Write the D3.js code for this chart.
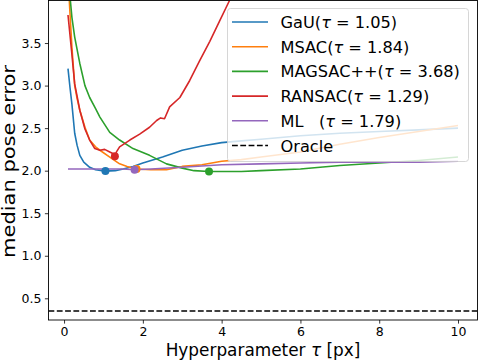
<!DOCTYPE html>
<html>
<head>
<meta charset="utf-8">
<script src="https://cdn.jsdelivr.net/npm/d3@7"></script>
<style>
  body { margin: 0; background: #fff; }
  svg text { font-family: "DejaVu Sans", sans-serif; fill: #000; }
</style>
</head>
<body>
<div id="chart"></div>
<script>
// Data
const gau_tau = [0.1, 0.15, 0.2, 0.27, 0.33, 0.4, 0.5, 0.65, 0.8, 1.05, 1.3, 1.5, 1.75, 2.0, 2.5, 3.0, 3.5, 4.0, 4.5, 5, 6, 7, 8, 9, 10];
const gau_err = [3.20, 2.98, 2.78, 2.44, 2.30, 2.18, 2.10, 2.04, 2.01, 1.995, 2.00, 2.02, 2.05, 2.09, 2.16, 2.24, 2.29, 2.33, 2.35, 2.37, 2.41, 2.44, 2.46, 2.48, 2.50];

const msac_tau = [0.1, 0.15, 0.2, 0.27, 0.33, 0.4, 0.53, 0.65, 0.8, 0.91, 1.16, 1.41, 1.6, 1.84, 2.2, 2.6, 3.0, 3.5, 4.0, 4.5, 5, 6, 7, 8, 9, 10];
const msac_err = [4.30, 3.85, 3.45, 3.00, 2.85, 2.71, 2.51, 2.36, 2.28, 2.24, 2.16, 2.08, 2.05, 2.02, 2.01, 2.01, 2.05, 2.07, 2.11, 2.13, 2.16, 2.22, 2.31, 2.39, 2.46, 2.53];

const magsac_tau = [0.1, 0.16, 0.2, 0.27, 0.4, 0.53, 0.65, 0.8, 0.91, 1.16, 1.41, 1.75, 2.17, 2.6, 3.0, 3.3, 3.68, 4.0, 4.5, 5, 6, 7, 8, 9, 10];
const magsac_err = [4.60, 4.00, 3.80, 3.57, 3.26, 3.00, 2.86, 2.73, 2.63, 2.45, 2.36, 2.26, 2.18, 2.08, 2.03, 2.00, 1.99, 1.99, 1.99, 2.00, 2.02, 2.06, 2.09, 2.12, 2.16];

const ransac_tau = [0.1, 0.19, 0.27, 0.4, 0.53, 0.65, 0.78, 0.91, 1.03, 1.16, 1.25, 1.29, 1.33, 1.41, 1.67, 1.92, 2.17, 2.35, 2.45, 2.55, 2.68, 2.94, 3.19, 3.44, 3.7, 3.95, 4.2, 5];
const ransac_err = [3.83, 3.41, 3.02, 2.71, 2.49, 2.36, 2.26, 2.24, 2.25, 2.22, 2.20, 2.17, 2.22, 2.28, 2.36, 2.43, 2.51, 2.59, 2.62, 2.61, 2.75, 2.86, 3.06, 3.29, 3.52, 3.76, 4.00, 4.60];

const ml_tau = [0.1, 0.5, 1.0, 1.5, 1.79, 2.2, 3, 4, 5, 6, 7, 8, 9, 10];
const ml_err = [2.02, 2.02, 2.02, 2.02, 2.01, 2.02, 2.04, 2.07, 2.08, 2.09, 2.10, 2.10, 2.10, 2.11];

const oracle_err = 0.35;

const names = ["GaU", "MSAC", "MAGSAC++", "RANSAC", "ML   "];
const best_tau = [1.05, 1.84, 3.68, 1.29, 1.79];
const best_err = [1.995, 2.02, 1.99, 2.17, 2.01];
const colors = ["#1f77b4", "#ff7f0e", "#2ca02c", "#d62728", "#9467bd"];

const x_ticks = [0, 2, 4, 6, 8, 10];
const y_ticks = [0.5, 1.0, 1.5, 2.0, 2.5, 3.0, 3.5];

const chart_width = 478;
const chart_height = 362;
const m_left = 48.5, m_right = 477.5, m_top = 0.5, m_bottom = 320;

const series = [
    [gau_tau, gau_err],
    [msac_tau, msac_err],
    [magsac_tau, magsac_err],
    [ransac_tau, ransac_err],
    [ml_tau, ml_err]
].map(([t, e]) => t.map((d, i) => ({tau: d, err: e[i]})));

// Scales
const x_scale = d3.scaleLinear()
    .domain([-0.395, 10.495])
    .range([m_left, m_right]);

const y_scale = d3.scaleLinear()
    .domain([0.245, 4.0])
    .range([m_bottom, m_top]);

// Create SVG
const svg = d3.select("#chart")
    .append("svg")
    .attr("width", chart_width)
    .attr("height", chart_height);

svg.append("defs").append("clipPath")
    .attr("id", "clip")
    .append("rect")
    .attr("x", m_left)
    .attr("y", m_top)
    .attr("width", m_right - m_left)
    .attr("height", m_bottom - m_top);

const plot = svg.append("g").attr("clip-path", "url(#clip)");

// Oracle line
plot.append("line")
    .attr("x1", m_left)
    .attr("x2", m_right)
    .attr("y1", y_scale(oracle_err))
    .attr("y2", y_scale(oracle_err))
    .attr("stroke", "#000")
    .attr("stroke-width", 1.6)
    .attr("stroke-dasharray", "5.8,2.5");

// Lines and best points
const line = d3.line()
    .x(d => x_scale(d.tau))
    .y(d => y_scale(d.err));

series.forEach((s, i) => {
    plot.append("path")
        .datum(s)
        .attr("fill", "none")
        .attr("stroke", colors[i])
        .attr("stroke-width", 1.6)
        .attr("stroke-linejoin", "round")
        .attr("d", line);
});

series.forEach((s, i) => {
    plot.append("circle")
        .attr("cx", x_scale(best_tau[i]))
        .attr("cy", y_scale(best_err[i]))
        .attr("r", 4)
        .attr("fill", colors[i]);
});

// Axes
const x_axis = d3.axisBottom(x_scale)
    .tickValues(x_ticks)
    .tickSize(3.6)
    .tickPadding(3.5)
    .tickFormat(d3.format("d"));

const y_axis = d3.axisLeft(y_scale)
    .tickValues(y_ticks)
    .tickSize(3.6)
    .tickPadding(3.5)
    .tickFormat(d3.format(".1f"));

const gx = svg.append("g")
    .attr("transform", `translate(0, ${m_bottom})`)
    .call(x_axis);

const gy = svg.append("g")
    .attr("transform", `translate(${m_left}, 0)`)
    .call(y_axis);

[gx, gy].forEach(g => {
    g.select(".domain").remove();
    g.selectAll("line").attr("stroke", "#000").attr("stroke-width", 0.8);
    g.selectAll("text")
        .attr("font-size", 12.5)
        .attr("font-family", "DejaVu Sans");
});

// Frame
svg.append("rect")
    .attr("x", m_left)
    .attr("y", m_top)
    .attr("width", m_right - m_left)
    .attr("height", m_bottom - m_top)
    .attr("fill", "none")
    .attr("stroke", "#000")
    .attr("stroke-width", 0.9);

// Axis labels
const xl = svg.append("text")
    .attr("x", (m_left + m_right) / 2)
    .attr("y", 356)
    .attr("text-anchor", "middle")
    .attr("font-size", 16.9);
xl.append("tspan").text("Hyperparameter ");
xl.append("tspan").attr("font-style", "italic").text("τ");
xl.append("tspan").text(" [px]");

svg.append("text")
    .attr("transform", `translate(15, 161.5) rotate(-90)`)
    .attr("text-anchor", "middle")
    .attr("font-size", 17.5)
    .attr("textLength", 193)
    .attr("lengthAdjust", "spacingAndGlyphs")
    .text("median pose error");

// Legend
const legend = svg.append("g");
legend.append("rect")
    .attr("x", 227.5)
    .attr("y", 8.5)
    .attr("width", 241)
    .attr("height", 153)
    .attr("rx", 3)
    .attr("fill", "#fff")
    .attr("fill-opacity", 0.8)
    .attr("stroke", "#cccccc")
    .attr("stroke-width", 0.8);

const row_y = i => 22 + i * 24.7;

names.forEach((n, i) => {
    legend.append("line")
        .attr("x1", 232).attr("x2", 268)
        .attr("y1", row_y(i)).attr("y2", row_y(i))
        .attr("stroke", colors[i])
        .attr("stroke-width", 1.6);
    const t = legend.append("text")
        .attr("x", 280.5)
        .attr("y", row_y(i) + 6)
        .attr("font-size", 16.2)
        .style("white-space", "pre");
    t.append("tspan").text(n + "(");
    t.append("tspan").attr("font-style", "italic").text("τ");
    t.append("tspan").text(" = " + best_tau[i].toFixed(2) + ")");
});

legend.append("line")
    .attr("x1", 232).attr("x2", 268)
    .attr("y1", row_y(5)).attr("y2", row_y(5))
    .attr("stroke", "#000")
    .attr("stroke-width", 1.6)
    .attr("stroke-dasharray", "5.8,2.5");
legend.append("text")
    .attr("x", 280.5)
    .attr("y", row_y(5) + 6)
    .attr("font-size", 16.2)
    .text("Oracle");
</script>
</body>
</html>
